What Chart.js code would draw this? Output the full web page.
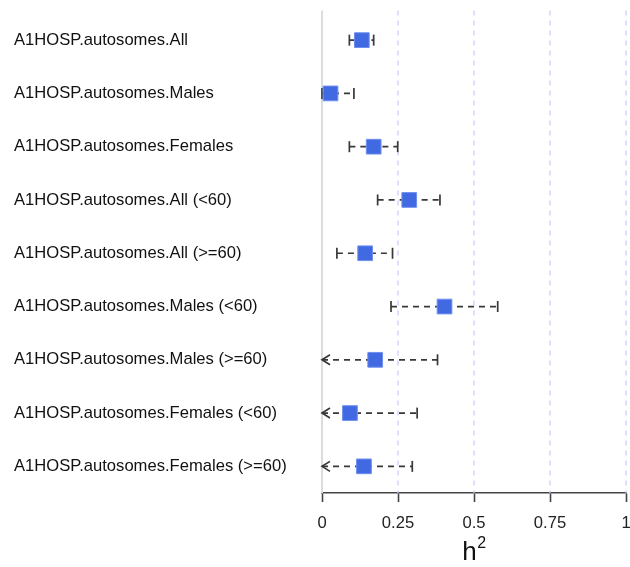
<!DOCTYPE html>
<html>
<head>
<meta charset="utf-8">
<script src="https://cdn.jsdelivr.net/npm/chart.js@4/dist/chart.umd.min.js"></script>
<style>
  html, body { margin: 0; padding: 0; background: #fff; }
  #wrap { width: 630px; height: 567px; }
</style>
</head>
<body>
<div id="wrap"><canvas id="c" width="630" height="567"></canvas></div>
<script>
// Heritability estimates (h²) with confidence limits, one row per model
const rowLabels = [
  'A1HOSP.autosomes.All',
  'A1HOSP.autosomes.Males',
  'A1HOSP.autosomes.Females',
  'A1HOSP.autosomes.All (<60)',
  'A1HOSP.autosomes.All (>=60)',
  'A1HOSP.autosomes.Males (<60)',
  'A1HOSP.autosomes.Males (>=60)',
  'A1HOSP.autosomes.Females (<60)',
  'A1HOSP.autosomes.Females (>=60)'
];
const h2Estimate = [0.131, 0.028, 0.170, 0.287, 0.142, 0.403, 0.175, 0.092, 0.138];
const ciLower    = [0.090, 0.000, 0.090, 0.183, 0.049, 0.227, -0.030, -0.129, -0.021];
const ciUpper    = [0.170, 0.105, 0.249, 0.388, 0.232, 0.578, 0.380, 0.313, 0.297];
const xTickValues = [0, 0.25, 0.5, 0.75, 1];

const FONT = '"Liberation Sans", Arial, Helvetica, sans-serif';
const TEXT_SIZE = 16.6;

// Reference lines: solid at zero, dashed at the other ticks
const gridPlugin = {
  id: 'forestGrid',
  beforeDatasetsDraw(chart) {
    const { ctx, chartArea, scales } = chart;
    const x = scales.x;
    ctx.save();
    xTickValues.forEach(v => {
      const px = x.getPixelForValue(v);
      ctx.beginPath();
      if (v === 0) {
        ctx.strokeStyle = '#dcdcdc';
        ctx.lineWidth = 2;
        ctx.setLineDash([]);
      } else {
        ctx.strokeStyle = '#c9c9fb';
        ctx.lineWidth = 1.2;
        ctx.setLineDash([5, 5]);
      }
      ctx.moveTo(px, chartArea.top - 3);
      ctx.lineTo(px, chartArea.bottom);
      ctx.stroke();
    });
    ctx.restore();
  }
};

// Confidence-interval whiskers; an arrow marks a limit below the axis minimum
const whiskerPlugin = {
  id: 'ciWhiskers',
  beforeDatasetsDraw(chart) {
    const { ctx, scales } = chart;
    const x = scales.x, y = scales.y;
    const xMin = x.min;
    ctx.save();
    ctx.strokeStyle = '#383838';
    ctx.lineWidth = 1.7;
    rowLabels.forEach((_, i) => {
      const py = y.getPixelForValue(i);
      const clipped = ciLower[i] < xMin;
      const x0 = x.getPixelForValue(clipped ? xMin : ciLower[i]);
      const x1 = x.getPixelForValue(ciUpper[i]);
      // dashed interval
      ctx.setLineDash([6, 5]);
      ctx.beginPath();
      ctx.moveTo(x0, py);
      ctx.lineTo(x1, py);
      ctx.stroke();
      ctx.setLineDash([]);
      // upper cap
      ctx.beginPath();
      ctx.moveTo(x1, py - 5.5);
      ctx.lineTo(x1, py + 5.5);
      ctx.stroke();
      ctx.beginPath();
      if (clipped) {
        ctx.moveTo(x0 + 8, py - 5);
        ctx.lineTo(x0, py);
        ctx.lineTo(x0 + 8, py + 5);
      } else {
        ctx.moveTo(x0, py - 5.5);
        ctx.lineTo(x0, py + 5.5);
      }
      ctx.stroke();
    });
    ctx.restore();
  }
};

// Axis title h with superscript 2
const titlePlugin = {
  id: 'hTitle',
  afterDraw(chart) {
    const { ctx, scales } = chart;
    const cx = scales.x.getPixelForValue(0.5);
    ctx.save();
    ctx.fillStyle = '#111';
    ctx.textBaseline = 'alphabetic';
    ctx.font = '26px ' + FONT;
    const wh = ctx.measureText('h').width;
    ctx.font = '16px ' + FONT;
    const w2 = ctx.measureText('2').width;
    const left = cx - (wh + w2) / 2;
    ctx.font = '26px ' + FONT;
    ctx.fillText('h', left, 560);
    ctx.font = '16px ' + FONT;
    ctx.fillText('2', left + wh + 0.5, 548);
    ctx.restore();
  }
};

new Chart(document.getElementById('c'), {
  type: 'scatter',
  data: {
    datasets: [{
      data: h2Estimate.map((v, i) => ({ x: v, y: i })),
      pointStyle: 'rect',
      pointRadius: 10.4,
      pointHoverRadius: 10.4,
      backgroundColor: '#4169e1',
      borderColor: '#6f8ff0',
      borderWidth: 1
    }]
  },
  options: {
    responsive: false,
    animation: false,
    events: [],
    layout: { autoPadding: false, padding: { left: 14, right: 4, top: 13.5, bottom: 0 } },
    plugins: {
      legend: { display: false },
      tooltip: { enabled: false }
    },
    scales: {
      x: {
        type: 'linear',
        min: 0,
        max: 1,
        afterBuildTicks: s => { s.ticks = xTickValues.map(v => ({ value: v })); },
        afterFit: s => { s.height = 74; s.paddingLeft = 0; s.paddingRight = 0; },
        ticks: {
          callback: v => String(v),
          color: '#222',
          font: { family: FONT, size: TEXT_SIZE },
          padding: 11,
          maxRotation: 0
        },
        grid: {
          drawOnChartArea: false,
          drawTicks: true,
          tickLength: 9,
          tickColor: '#444',
          tickWidth: 1.6
        },
        border: { display: true, color: '#444', width: 1.6 }
      },
      y: {
        type: 'category',
        labels: rowLabels,
        offset: true,
        afterFit: s => { s.width = 308; s.paddingTop = 0; s.paddingBottom = 0; },
        ticks: {
          crossAlign: 'far',
          padding: 0,
          color: '#111',
          font: { family: FONT, size: TEXT_SIZE }
        },
        grid: { display: false },
        border: { display: false }
      }
    }
  },
  plugins: [gridPlugin, whiskerPlugin, titlePlugin]
});
</script>
</body>
</html>
